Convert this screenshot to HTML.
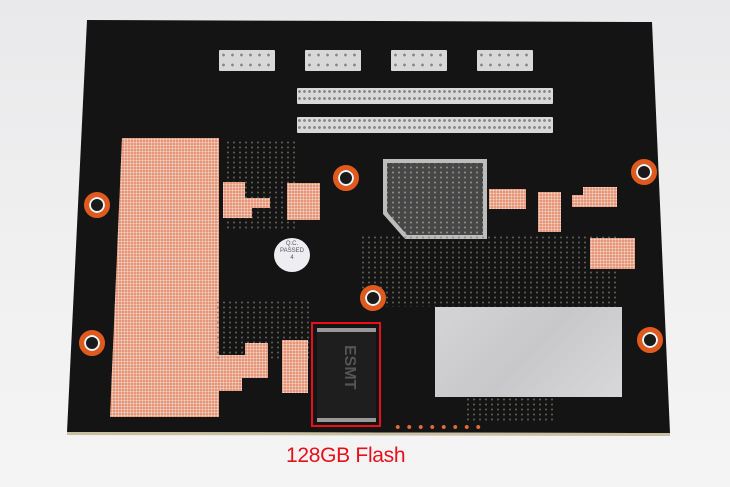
<!DOCTYPE html>
<html><head><meta charset="utf-8"><style>
html,body{margin:0;padding:0}
body{width:730px;height:487px;overflow:hidden;position:relative;background:linear-gradient(180deg,#e9e9eb 0%,#f1f1f1 60%,#f4f4f4 100%);font-family:"Liberation Sans",sans-serif}
.a{position:absolute}
.board{left:0;top:0;width:730px;height:487px;background:#141414;clip-path:polygon(87px 20px,652px 22px,670px 433px,67px 432px)}
.edge{left:0;top:0;width:730px;height:487px;background:#c8c0a0;clip-path:polygon(67px 432px,670px 433px,670px 436px,67px 435px)}
.cu{background-color:#e2896a;background-image:radial-gradient(circle,#f6dccf 1px,transparent 1.2px);background-size:3px 3px}
.hdr{background:#d8d8d8;background-image:radial-gradient(circle,#8a8a8a 1.3px,#e0e0e0 1.6px,transparent 2px);background-size:5px 7px;border-radius:1px}
.ring{width:16px;height:16px;border:5px solid #e05a1e;border-radius:50%;background:#1a1a1a;box-shadow:inset 0 0 0 2px #f4f4f4}
.comp{background-image:radial-gradient(circle,#7a7a6e 0.8px,transparent 1.2px);background-size:6px 5px;opacity:.7}
</style></head><body>
<div class="a board"></div>
<div class="a edge"></div>
<div class="a cu" style="left:0;top:0;width:730px;height:487px;clip-path:polygon(122px 138px,219px 138px,219px 417px,110px 417px)"></div>
<div class="a hdr" style="left:219px;top:50px;width:56px;height:21px;background-size:9px 10px"></div>
<div class="a hdr" style="left:305px;top:50px;width:56px;height:21px;background-size:9px 10px"></div>
<div class="a hdr" style="left:391px;top:50px;width:56px;height:21px;background-size:9px 10px"></div>
<div class="a hdr" style="left:477px;top:50px;width:56px;height:21px;background-size:9px 10px"></div>
<div class="a hdr" style="left:297px;top:88px;width:256px;height:16px"></div>
<div class="a hdr" style="left:297px;top:117px;width:256px;height:16px"></div>
<div class="a" style="left:0;top:0;width:730px;height:487px;background:#bdbdbd;clip-path:polygon(383px 159px,487px 159px,487px 239px,405px 239px,383px 214px)"></div>
<div class="a comp" style="left:0;top:0;width:730px;height:487px;background-color:#161616;clip-path:polygon(387px 163px,483px 163px,483px 235px,407px 235px,387px 212px)"></div>
<div class="a comp" style="left:360px;top:235px;width:260px;height:72px"></div>
<div class="a comp" style="left:225px;top:140px;width:70px;height:90px"></div>
<div class="a comp" style="left:215px;top:300px;width:95px;height:60px"></div>
<div class="a comp" style="left:465px;top:397px;width:90px;height:25px"></div>
<div class="a cu" style="left:0;top:0;width:730px;height:487px;clip-path:polygon(223px 182px,245px 182px,245px 198px,270px 198px,270px 208px,252px 208px,252px 218px,223px 218px)"></div>
<div class="a cu" style="left:287px;top:183px;width:33px;height:37px"></div>
<div class="a cu" style="left:489px;top:189px;width:37px;height:20px"></div>
<div class="a cu" style="left:538px;top:192px;width:23px;height:40px"></div>
<div class="a cu" style="left:0;top:0;width:730px;height:487px;clip-path:polygon(583px 187px,617px 187px,617px 207px,572px 207px,572px 195px,583px 195px)"></div>
<div class="a cu" style="left:590px;top:238px;width:45px;height:31px"></div>
<div class="a cu" style="left:0;top:0;width:730px;height:487px;clip-path:polygon(219px 355px,245px 355px,245px 343px,268px 343px,268px 378px,242px 378px,242px 391px,219px 391px)"></div>
<div class="a cu" style="left:282px;top:340px;width:26px;height:53px"></div>
<div class="a ring" style="left:84px;top:192px"></div>
<div class="a ring" style="left:79px;top:330px"></div>
<div class="a ring" style="left:333px;top:165px"></div>
<div class="a ring" style="left:360px;top:285px"></div>
<div class="a ring" style="left:631px;top:159px"></div>
<div class="a ring" style="left:637px;top:327px"></div>
<div class="a" style="left:274px;top:238px;width:36px;height:34px;border-radius:50%;background:#eeeef2;color:#555;font-size:6px;line-height:7px;text-align:center;padding-top:3px;box-sizing:border-box">Q.C.<br>PASSED<br>4</div>
<div class="a" style="left:435px;top:307px;width:187px;height:90px;background:linear-gradient(135deg,#d4d4d6,#c8c8ca 50%,#d8d8da)"></div>
<div class="a" style="left:317px;top:328px;width:59px;height:94px;background:#1e1e1e;border-top:4px solid #999;border-bottom:4px solid #999;box-sizing:border-box"></div>
<div class="a" style="top:345px;color:#555;font-weight:bold;font-size:16px;transform:rotate(90deg);transform-origin:0 0;left:358px">ESMT</div>
<div class="a" style="left:311px;top:322px;width:70px;height:105px;border:2px solid #e8101a;box-sizing:border-box"></div>
<div class="a" style="left:392px;top:425px;width:92px;height:4px;background-image:radial-gradient(circle,#e06a3a 1.8px,transparent 2.2px);background-size:11.5px 4px"></div>
<div class="a" style="left:286px;top:444px;color:#e8101a;font-size:21px;letter-spacing:-0.3px;white-space:nowrap">128GB Flash</div>
</body></html>
